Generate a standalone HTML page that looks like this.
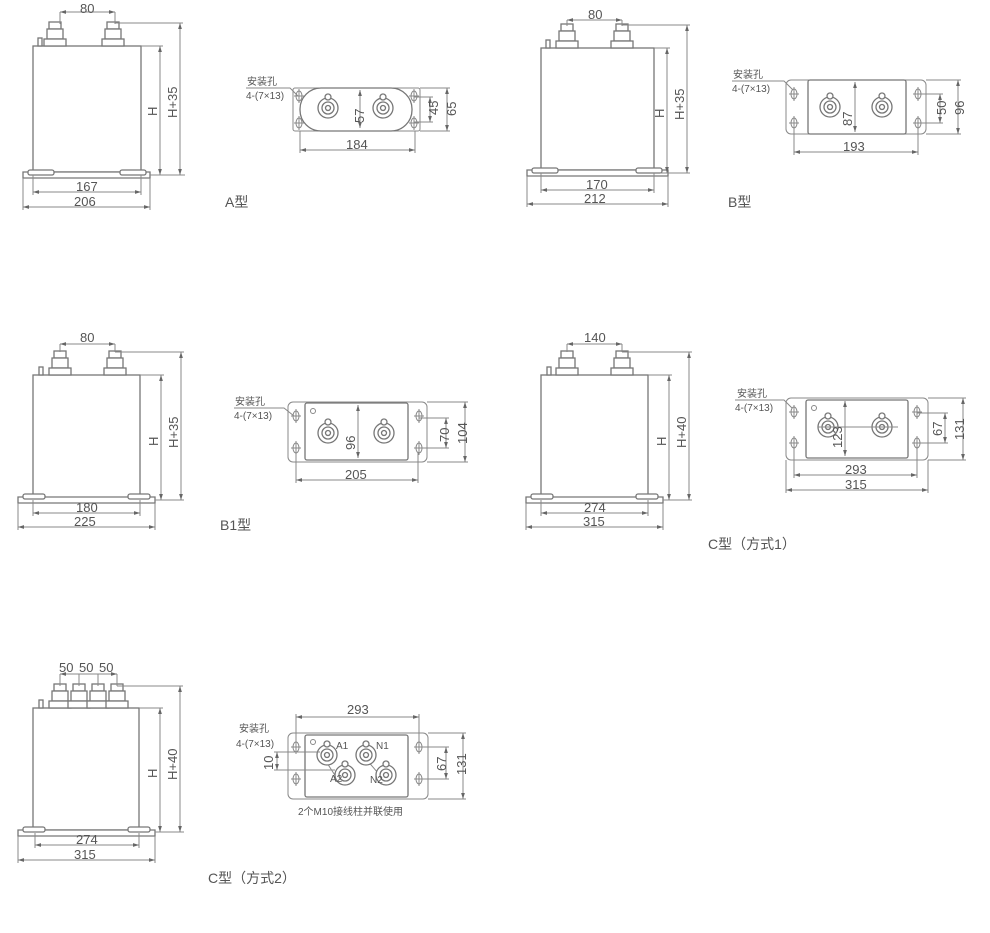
<!DOCTYPE html><html><head><meta charset="utf-8"><style>
html,body{margin:0;padding:0;background:#fff;width:990px;height:933px;overflow:hidden}
svg{display:block}
text{font-family:"Liberation Sans","Noto Sans CJK SC",sans-serif;fill:#555}
.l{stroke:#888;stroke-width:1;fill:none}
.b{stroke:#777;stroke-width:1.3;fill:#fff}
.t{font-size:13px}
.s{font-size:10px}
.c{font-size:14px}
</style></head><body>
<svg width="990" height="933" viewBox="0 0 990 933" xmlns="http://www.w3.org/2000/svg">
<defs>
<marker id="a" viewBox="0 0 8 8" refX="8" refY="4" markerWidth="6" markerHeight="6" orient="auto-start-reverse"><path d="M0,1.5 L8,4 L0,6.5z" fill="#666"/></marker>
<g id="term"><rect x="-6" y="-24" width="12" height="7" class="b"/><rect x="-8" y="-17" width="16" height="10" class="b"/><rect x="-11" y="-7" width="22" height="7" class="b"/></g>
<g id="tt"><circle r="10" class="b"/><circle r="6" class="b"/><circle r="2.5" class="b"/><circle cy="-11" r="3" class="b"/></g>
<g id="hole"><ellipse rx="3" ry="5" class="l"/><path d="M-5,0H5M0,-7V7" class="l" stroke-width=".6"/></g>
</defs>

<g>
<rect x="33" y="46" width="108" height="126" class="b"/>
<use href="#term" x="55" y="46"/><use href="#term" x="113" y="46"/>
<rect x="38" y="38" width="4" height="8" class="b"/>
<path d="M23,172H150v6H23z" class="b"/><rect x="28" y="170" width="26" height="5" rx="2" class="b"/><rect x="120" y="170" width="26" height="5" rx="2" class="b"/>
<path d="M60,12H115" class="l" marker-start="url(#a)" marker-end="url(#a)"/><path d="M60,12V24M115,12V24" class="l"/>
<text x="80" y="13" class="t">80</text>
<path d="M33,192H141" class="l" marker-start="url(#a)" marker-end="url(#a)"/><path d="M33,175V195M141,175V195" class="l"/>
<text x="76" y="191" class="t">167</text>
<path d="M23,207H150" class="l" marker-start="url(#a)" marker-end="url(#a)"/><path d="M23,178V210M150,178V210" class="l"/>
<text x="74" y="206" class="t">206</text>
<path d="M160,46V175" class="l" marker-start="url(#a)" marker-end="url(#a)"/><path d="M141,46H163M150,175H185" class="l"/>
<path d="M180,23V175" class="l" marker-start="url(#a)" marker-end="url(#a)"/><path d="M115,23H183" class="l"/>
<text class="t" transform="translate(157,116) rotate(-90)">H</text>
<text class="t" transform="translate(177,118) rotate(-90)">H+35</text>
</g>
<g>
<rect x="293" y="88" width="127" height="43" rx="2" class="l"/>
<rect x="300" y="88" width="112" height="43" rx="21" class="b"/>
<use href="#tt" x="328" y="108"/><use href="#tt" x="383" y="108"/>
<use href="#hole" x="299" y="96"/><use href="#hole" x="414" y="96"/><use href="#hole" x="299" y="123"/><use href="#hole" x="414" y="123"/>
<path d="M360,90V128" class="l" marker-start="url(#a)" marker-end="url(#a)"/>
<text class="t" transform="translate(364,123) rotate(-90)">57</text>
<path d="M430,97V122" class="l" marker-start="url(#a)" marker-end="url(#a)"/><path d="M414,97H433M414,122H433" class="l"/>
<text class="t" transform="translate(438,115) rotate(-90)">45</text>
<path d="M447,88V131" class="l" marker-start="url(#a)" marker-end="url(#a)"/><path d="M420,88H450M420,131H450" class="l"/>
<text class="t" transform="translate(456,116) rotate(-90)">65</text>
<path d="M300,150H415" class="l" marker-start="url(#a)" marker-end="url(#a)"/><path d="M300,131V153M415,131V153" class="l"/>
<text x="346" y="149" class="t">184</text>
<text x="247" y="85" class="s">安装孔</text><text x="246" y="99" class="s">4-(7×13)</text>
<path d="M246,88H290L298,96" class="l" stroke-width=".6"/>
<text x="225" y="207" class="c">A型</text>
</g>

<g>
<rect x="541" y="48" width="113" height="122" class="b"/>
<use href="#term" x="567" y="48"/><use href="#term" x="622" y="48"/>
<rect x="546" y="40" width="4" height="8" class="b"/>
<path d="M527,170H668v6H527z" class="b"/><rect x="532" y="168" width="26" height="5" rx="2" class="b"/><rect x="636" y="168" width="26" height="5" rx="2" class="b"/>
<path d="M567,20H622" class="l" marker-start="url(#a)" marker-end="url(#a)"/><path d="M567,20V26M622,20V26" class="l"/>
<text x="588" y="19" class="t">80</text>
<path d="M541,190H654" class="l" marker-start="url(#a)" marker-end="url(#a)"/><path d="M541,173V193M654,173V193" class="l"/>
<text x="586" y="189" class="t">170</text>
<path d="M527,204H668" class="l" marker-start="url(#a)" marker-end="url(#a)"/><path d="M527,176V207M668,176V207" class="l"/>
<text x="584" y="203" class="t">212</text>
<path d="M667,48V173" class="l" marker-start="url(#a)" marker-end="url(#a)"/><path d="M654,48H670M660,173H690" class="l"/>
<path d="M687,25V173" class="l" marker-start="url(#a)" marker-end="url(#a)"/><path d="M622,25H690" class="l"/>
<text class="t" transform="translate(664,118) rotate(-90)">H</text>
<text class="t" transform="translate(684,120) rotate(-90)">H+35</text>
</g>
<g>
<rect x="786" y="80" width="140" height="54" rx="5" class="l"/>
<rect x="808" y="80" width="98" height="54" rx="2" class="b"/>
<use href="#tt" x="830" y="107"/><use href="#tt" x="882" y="107"/>
<use href="#hole" x="794" y="94"/><use href="#hole" x="918" y="94"/><use href="#hole" x="794" y="123"/><use href="#hole" x="918" y="123"/>
<path d="M855,82V132" class="l" marker-start="url(#a)" marker-end="url(#a)"/>
<text class="t" transform="translate(852,126) rotate(-90)">87</text>
<path d="M940,94V123" class="l" marker-start="url(#a)" marker-end="url(#a)"/><path d="M918,94H943M918,123H943" class="l"/>
<text class="t" transform="translate(946,115) rotate(-90)">50</text>
<path d="M958,80V134" class="l" marker-start="url(#a)" marker-end="url(#a)"/><path d="M926,80H961M926,134H961" class="l"/>
<text class="t" transform="translate(964,115) rotate(-90)">96</text>
<path d="M794,152H918" class="l" marker-start="url(#a)" marker-end="url(#a)"/><path d="M794,128V155M918,128V155" class="l"/>
<text x="843" y="151" class="t">193</text>
<text x="733" y="78" class="s">安装孔</text><text x="732" y="92" class="s">4-(7×13)</text>
<path d="M732,81H784L793,90" class="l" stroke-width=".6"/>
<text x="728" y="207" class="c">B型</text>
</g>

<g>
<rect x="33" y="375" width="107" height="123" class="b"/>
<use href="#term" x="60" y="375"/><use href="#term" x="115" y="375"/>
<rect x="39" y="367" width="4" height="8" class="b"/>
<path d="M18,497H155v6H18z" class="b"/><rect x="23" y="494" width="22" height="5" rx="2" class="b"/><rect x="128" y="494" width="22" height="5" rx="2" class="b"/>
<path d="M60,344H115" class="l" marker-start="url(#a)" marker-end="url(#a)"/><path d="M60,344V352M115,344V352" class="l"/>
<text x="80" y="342" class="t">80</text>
<path d="M33,513H140" class="l" marker-start="url(#a)" marker-end="url(#a)"/><path d="M33,500V516M140,500V516" class="l"/>
<text x="76" y="512" class="t">180</text>
<path d="M18,527H155" class="l" marker-start="url(#a)" marker-end="url(#a)"/><path d="M18,503V530M155,503V530" class="l"/>
<text x="74" y="526" class="t">225</text>
<path d="M161,375V500" class="l" marker-start="url(#a)" marker-end="url(#a)"/><path d="M140,375H164M155,500H184" class="l"/>
<path d="M181,352V500" class="l" marker-start="url(#a)" marker-end="url(#a)"/><path d="M115,352H184" class="l"/>
<text class="t" transform="translate(158,446) rotate(-90)">H</text>
<text class="t" transform="translate(178,448) rotate(-90)">H+35</text>
</g>
<g>
<rect x="288" y="402" width="139" height="60" rx="5" class="l"/>
<rect x="305" y="403" width="103" height="57" rx="2" class="b"/>
<circle cx="313" cy="411" r="2.5" class="l"/>
<use href="#tt" x="328" y="433"/><use href="#tt" x="384" y="433"/>
<use href="#hole" x="296" y="416"/><use href="#hole" x="419" y="416"/><use href="#hole" x="296" y="448"/><use href="#hole" x="419" y="448"/>
<path d="M358,405V458" class="l" marker-start="url(#a)" marker-end="url(#a)"/>
<text class="t" transform="translate(355,450) rotate(-90)">96</text>
<path d="M446,418V448" class="l" marker-start="url(#a)" marker-end="url(#a)"/><path d="M419,418H449M419,448H449" class="l"/>
<text class="t" transform="translate(449,442) rotate(-90)">70</text>
<path d="M465,402V462" class="l" marker-start="url(#a)" marker-end="url(#a)"/><path d="M427,402H468M427,462H468" class="l"/>
<text class="t" transform="translate(467,444) rotate(-90)">104</text>
<path d="M296,480H418" class="l" marker-start="url(#a)" marker-end="url(#a)"/><path d="M296,452V483M418,452V483" class="l"/>
<text x="345" y="479" class="t">205</text>
<text x="235" y="405" class="s">安装孔</text><text x="234" y="419" class="s">4-(7×13)</text>
<path d="M234,408H284L294,416" class="l" stroke-width=".6"/>
<text x="220" y="530" class="c">B1型</text>
</g>

<g>
<rect x="541" y="375" width="107" height="123" class="b"/>
<use href="#term" x="567" y="375"/><use href="#term" x="622" y="375"/>
<rect x="547" y="367" width="4" height="8" class="b"/>
<path d="M526,497H663v6H526z" class="b"/><rect x="531" y="494" width="22" height="5" rx="2" class="b"/><rect x="636" y="494" width="22" height="5" rx="2" class="b"/>
<path d="M567,344H622" class="l" marker-start="url(#a)" marker-end="url(#a)"/><path d="M567,344V352M622,344V352" class="l"/>
<text x="584" y="342" class="t">140</text>
<path d="M541,513H648" class="l" marker-start="url(#a)" marker-end="url(#a)"/><path d="M541,500V516M648,500V516" class="l"/>
<text x="584" y="512" class="t">274</text>
<path d="M526,527H663" class="l" marker-start="url(#a)" marker-end="url(#a)"/><path d="M526,503V530M663,503V530" class="l"/>
<text x="583" y="526" class="t">315</text>
<path d="M669,375V500" class="l" marker-start="url(#a)" marker-end="url(#a)"/><path d="M648,375H672M663,500H692" class="l"/>
<path d="M689,352V500" class="l" marker-start="url(#a)" marker-end="url(#a)"/><path d="M622,352H692" class="l"/>
<text class="t" transform="translate(666,446) rotate(-90)">H</text>
<text class="t" transform="translate(686,448) rotate(-90)">H+40</text>
</g>
<g>
<rect x="786" y="398" width="142" height="62" rx="5" class="l"/>
<rect x="806" y="400" width="102" height="58" rx="2" class="b"/>
<circle cx="814" cy="408" r="2.5" class="l"/>
<use href="#tt" x="828" y="427"/><use href="#tt" x="882" y="427"/>
<path d="M818,427H898" class="l" stroke-width=".6"/>
<use href="#hole" x="794" y="412"/><use href="#hole" x="917" y="412"/><use href="#hole" x="794" y="443"/><use href="#hole" x="917" y="443"/>
<path d="M845,401V456" class="l" marker-start="url(#a)" marker-end="url(#a)"/>
<text class="t" transform="translate(842,448) rotate(-90)">123</text>
<path d="M945,413V443" class="l" marker-start="url(#a)" marker-end="url(#a)"/><path d="M917,413H948M917,443H948" class="l"/>
<text class="t" transform="translate(942,436) rotate(-90)">67</text>
<path d="M963,398V460" class="l" marker-start="url(#a)" marker-end="url(#a)"/><path d="M928,398H966M928,460H966" class="l"/>
<text class="t" transform="translate(964,440) rotate(-90)">131</text>
<path d="M794,475H917" class="l" marker-start="url(#a)" marker-end="url(#a)"/><path d="M794,448V478M917,448V478" class="l"/>
<text x="845" y="474" class="t">293</text>
<path d="M786,490H928" class="l" marker-start="url(#a)" marker-end="url(#a)"/><path d="M786,460V493M928,460V493" class="l"/>
<text x="845" y="489" class="t">315</text>
<text x="737" y="397" class="s">安装孔</text><text x="735" y="411" class="s">4-(7×13)</text>
<path d="M735,400H784L792,408" class="l" stroke-width=".6"/>
<text x="708" y="549" class="c">C型（方式1）</text>
</g>

<g>
<rect x="33" y="708" width="106" height="122" class="b"/>
<use href="#term" x="60" y="708"/><use href="#term" x="79" y="708"/><use href="#term" x="98" y="708"/><use href="#term" x="117" y="708"/>
<rect x="39" y="700" width="4" height="8" class="b"/>
<path d="M18,830H155v6H18z" class="b"/><rect x="23" y="827" width="22" height="5" rx="2" class="b"/><rect x="128" y="827" width="22" height="5" rx="2" class="b"/>
<path d="M60,674H79M79,674H98M98,674H117" class="l" marker-start="url(#a)" marker-end="url(#a)"/><path d="M60,674V686M79,674V686M98,674V686M117,674V686" class="l"/>
<text x="59" y="672" class="t">50</text><text x="79" y="672" class="t">50</text><text x="99" y="672" class="t">50</text>
<path d="M35,845H139" class="l" marker-start="url(#a)" marker-end="url(#a)"/><path d="M35,833V848M139,833V848" class="l"/>
<text x="76" y="844" class="t">274</text>
<path d="M18,860H155" class="l" marker-start="url(#a)" marker-end="url(#a)"/><path d="M18,836V863M155,836V863" class="l"/>
<text x="74" y="859" class="t">315</text>
<path d="M160,708V832" class="l" marker-start="url(#a)" marker-end="url(#a)"/><path d="M139,708H163M155,832H184" class="l"/>
<path d="M180,686V832" class="l" marker-start="url(#a)" marker-end="url(#a)"/><path d="M117,686H183" class="l"/>
<text class="t" transform="translate(157,778) rotate(-90)">H</text>
<text class="t" transform="translate(177,780) rotate(-90)">H+40</text>
</g>
<g>
<rect x="288" y="733" width="140" height="66" rx="5" class="l"/>
<rect x="305" y="735" width="103" height="62" rx="2" class="b"/>
<circle cx="313" cy="742" r="2.5" class="l"/>
<path d="M320,752L338,780M360,752L384,780" class="l" stroke-width="7" stroke="#bbb"/>
<use href="#tt" x="327" y="755"/><use href="#tt" x="345" y="775"/><use href="#tt" x="366" y="755"/><use href="#tt" x="386" y="775"/>
<text x="336" y="749" class="s" font-size="9">A1</text><text x="330" y="782" class="s" font-size="9">A2</text>
<text x="376" y="749" class="s" font-size="9">N1</text><text x="370" y="783" class="s" font-size="9">N2</text>
<use href="#hole" x="296" y="747"/><use href="#hole" x="419" y="747"/><use href="#hole" x="296" y="779"/><use href="#hole" x="419" y="779"/>
<path d="M277,752V770" class="l" marker-start="url(#a)" marker-end="url(#a)"/><path d="M274,752H320M274,770H335" class="l" stroke-width=".6"/>
<text class="t" transform="translate(273,770) rotate(-90)">10</text>
<path d="M446,747V779" class="l" marker-start="url(#a)" marker-end="url(#a)"/><path d="M419,747H449M419,779H449" class="l"/>
<text class="t" transform="translate(446,771) rotate(-90)">67</text>
<path d="M463,733V799" class="l" marker-start="url(#a)" marker-end="url(#a)"/><path d="M428,733H466M428,799H466" class="l"/>
<text class="t" transform="translate(466,775) rotate(-90)">131</text>
<path d="M296,717H419" class="l" marker-start="url(#a)" marker-end="url(#a)"/><path d="M296,714V745M419,714V745" class="l"/>
<text x="347" y="714" class="t">293</text>
<text x="239" y="732" class="s">安装孔</text><text x="236" y="747" class="s">4-(7×13)</text>
<text x="298" y="815" class="s">2个M10接线柱并联使用</text>
<text x="208" y="883" class="c">C型（方式2）</text>
</g>
</svg>
</body></html>
